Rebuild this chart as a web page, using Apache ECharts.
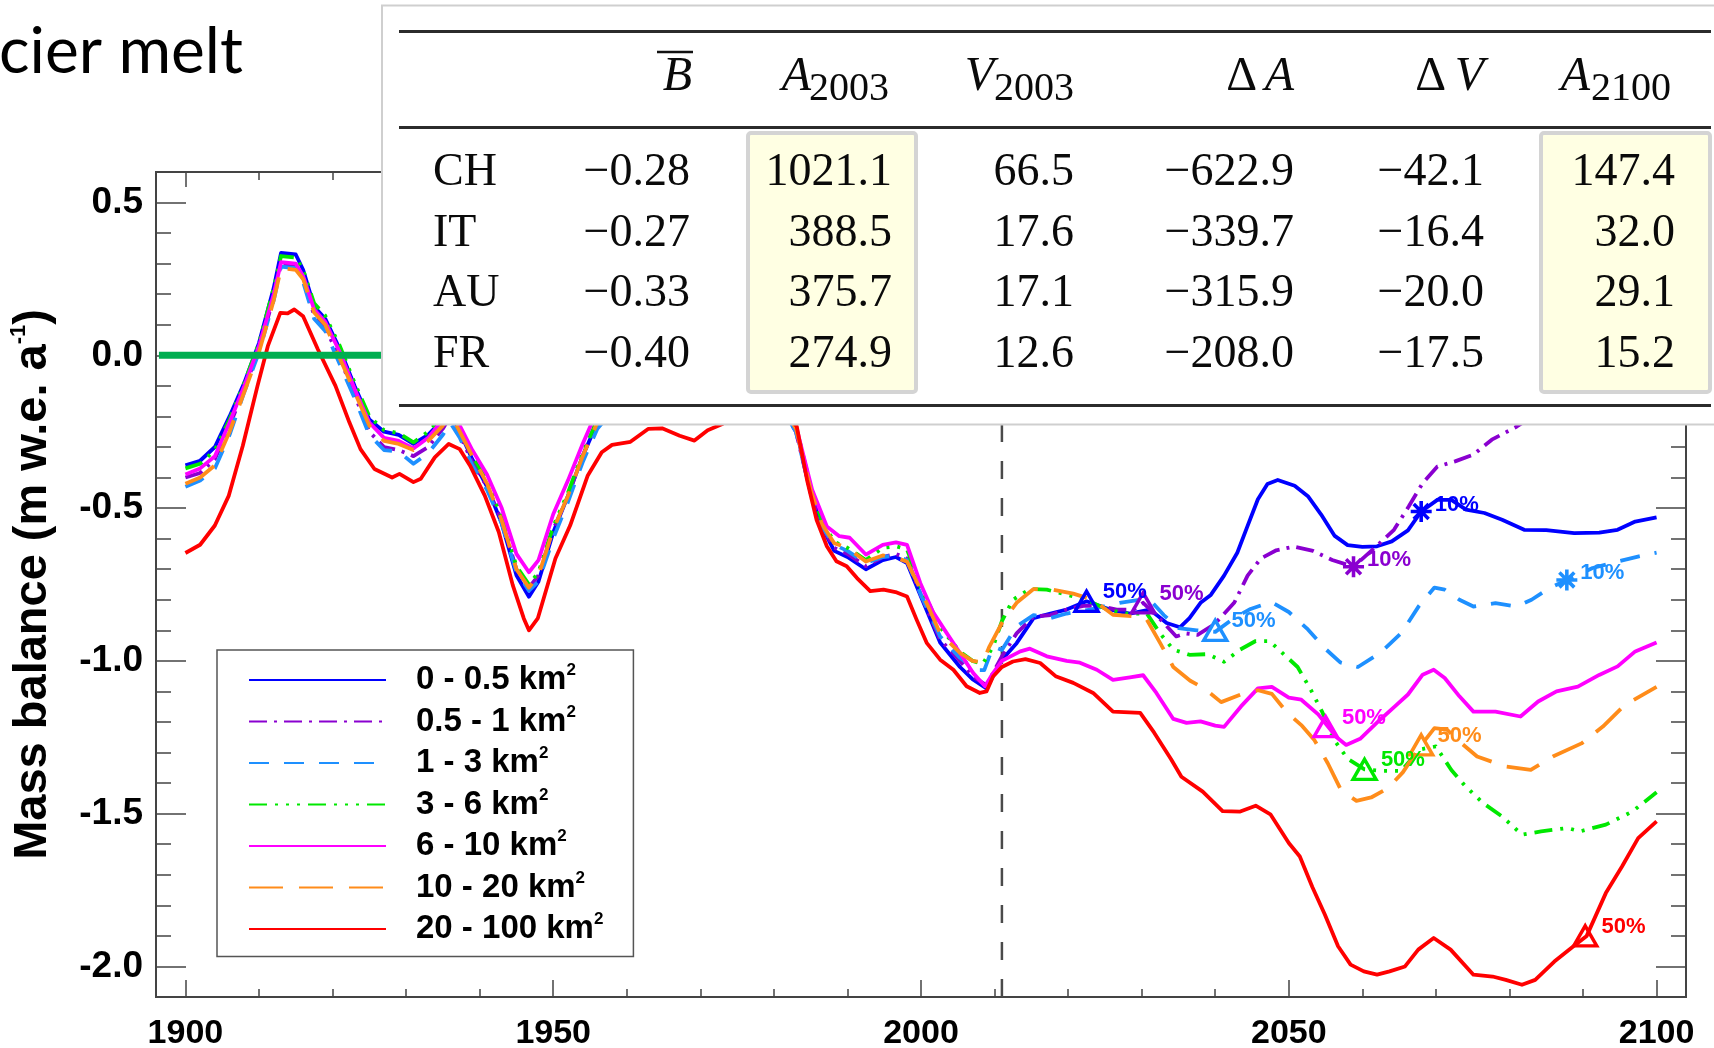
<!DOCTYPE html>
<html><head><meta charset="utf-8">
<script src="https://cdn.jsdelivr.net/npm/echarts@6/dist/echarts.min.js"></script>
<style>html,body{margin:0;padding:0;background:#fff}#c{width:1714px;height:1048px}</style>
</head><body><div id="c"></div>
<script>
// ---------------- data ----------------
const sizeClasses = ['0 - 0.5','0.5 - 1','1 - 3','3 - 6','6 - 10','10 - 20','20 - 100'];

const mb_0_05 = [[1900,-0.36],[1902,-0.345],[1904,-0.30],[1906,-0.20],[1908,-0.09],[1910,0.04],[1912,0.22],[1913,0.335],[1915,0.33],[1916,0.28],[1917.5,0.16],[1919,0.12],[1921,0.02],[1923,-0.10],[1925,-0.21],[1927,-0.25],[1929,-0.26],[1931,-0.29],[1933,-0.26],[1935,-0.21],[1936,-0.19],[1937.3,-0.25],[1939,-0.34],[1941,-0.43],[1943,-0.55],[1945,-0.72],[1946.7,-0.79],[1948,-0.74],[1950,-0.58],[1952,-0.46],[1954,-0.33],[1956,-0.22],[1960,-0.12],[1965,-0.06],[1970,-0.09],[1975,-0.05],[1980,-0.12],[1983,-0.24],[1985,-0.45],[1986.5,-0.56],[1988.2,-0.64],[1990,-0.66],[1992.5,-0.70],[1994.8,-0.67],[1996.6,-0.66],[1998.1,-0.68],[2000,-0.79],[2002.6,-0.94],[2005.3,-1.02],[2007,-1.06],[2008.9,-1.09],[2010,-1.04],[2011,-0.996],[2013,-0.942],[2015.3,-0.86],[2017.6,-0.845],[2019.8,-0.832],[2022.5,-0.805],[2025.7,-0.832],[2028.4,-0.845],[2031.1,-0.832],[2033.4,-0.876],[2035.2,-0.89],[2036.5,-0.86],[2038,-0.81],[2039.4,-0.784],[2041.2,-0.721],[2043,-0.646],[2044.4,-0.558],[2045.8,-0.471],[2047.1,-0.421],[2048.5,-0.408],[2050.8,-0.427],[2052.6,-0.461],[2054.4,-0.521],[2056.2,-0.59],[2058,-0.621],[2060,-0.627],[2062,-0.625],[2064,-0.609],[2066.2,-0.573],[2068,-0.511],[2070.2,-0.473],[2072.1,-0.473],[2074.1,-0.505],[2076.6,-0.516],[2079,-0.538],[2082,-0.571],[2085,-0.572],[2088.8,-0.582],[2092.2,-0.58],[2094.7,-0.571],[2097.1,-0.544],[2100,-0.53]];

const mb_05_1 = [[1900,-0.40],[1902,-0.385],[1904,-0.34],[1906,-0.23],[1908,-0.11],[1910,0.02],[1912,0.19],[1913,0.30],[1915,0.295],[1916,0.25],[1917.5,0.13],[1919,0.09],[1921,-0.01],[1923,-0.13],[1925,-0.25],[1927,-0.30],[1929,-0.31],[1931,-0.33],[1933,-0.30],[1935,-0.24],[1936,-0.20],[1937.3,-0.26],[1939,-0.35],[1941,-0.43],[1943,-0.54],[1945,-0.70],[1946.7,-0.76],[1948,-0.72],[1950,-0.57],[1952,-0.46],[1954,-0.33],[1956,-0.21],[1960,-0.12],[1965,-0.06],[1970,-0.09],[1975,-0.06],[1980,-0.13],[1983,-0.25],[1985,-0.45],[1986.5,-0.56],[1988.2,-0.63],[1990,-0.65],[1992.5,-0.69],[1994.8,-0.66],[1996.6,-0.65],[1998.1,-0.665],[2000,-0.785],[2002.6,-0.93],[2005.3,-1.0],[2007,-1.05],[2008.9,-1.08],[2010,-1.03],[2011,-0.985],[2013,-0.91],[2015.3,-0.855],[2017.6,-0.85],[2019.8,-0.832],[2022.1,-0.82],[2024.3,-0.82],[2026.6,-0.832],[2028.9,-0.832],[2030.2,-0.81],[2032.5,-0.863],[2034.7,-0.92],[2036,-0.91],[2037.6,-0.915],[2039.9,-0.88],[2042.6,-0.809],[2044.4,-0.721],[2046.2,-0.665],[2048.3,-0.638],[2050.7,-0.626],[2053.3,-0.64],[2055.9,-0.67],[2058.8,-0.692],[2061.4,-0.636],[2064.3,-0.571],[2066.3,-0.495],[2068.2,-0.418],[2070.2,-0.364],[2072.6,-0.347],[2075.1,-0.325],[2077.6,-0.276],[2081,-0.233],[2085,-0.17],[2090,-0.11],[2095,-0.06],[2100,-0.02]];

const mb_1_3 = [[1900,-0.43],[1902,-0.41],[1904,-0.37],[1906,-0.26],[1908,-0.12],[1910,0.01],[1912,0.18],[1913,0.29],[1915,0.285],[1916,0.24],[1917.5,0.12],[1919,0.08],[1921,-0.03],[1923,-0.14],[1925,-0.26],[1927,-0.31],[1929,-0.315],[1931,-0.355],[1933,-0.32],[1935,-0.26],[1936,-0.22],[1937.3,-0.27],[1939,-0.36],[1941,-0.44],[1943,-0.55],[1945,-0.71],[1946.7,-0.77],[1948,-0.74],[1950,-0.60],[1952,-0.48],[1954,-0.35],[1956,-0.24],[1960,-0.13],[1965,-0.07],[1970,-0.10],[1975,-0.06],[1980,-0.13],[1983,-0.25],[1985,-0.45],[1986.5,-0.56],[1988.2,-0.62],[1990,-0.64],[1992.5,-0.68],[1994.8,-0.66],[1996.6,-0.655],[1998.1,-0.67],[2000,-0.785],[2002.6,-0.92],[2005.3,-0.99],[2007.6,-1.03],[2008.6,-1.03],[2009.8,-0.953],[2011,-0.964],[2013,-0.887],[2015.3,-0.85],[2017.6,-0.86],[2019.8,-0.845],[2023,-0.832],[2027,-0.81],[2029.8,-0.80],[2031.5,-0.81],[2033,-0.85],[2035,-0.893],[2037.5,-0.90],[2040,-0.905],[2042.6,-0.859],[2044.8,-0.83],[2047.6,-0.807],[2050,-0.84],[2052.6,-0.897],[2054.9,-0.959],[2057,-1.005],[2059.4,-1.02],[2062.5,-0.973],[2065.3,-0.909],[2067.7,-0.82],[2069.8,-0.76],[2071.2,-0.767],[2073.2,-0.8],[2075.1,-0.822],[2078.1,-0.811],[2081,-0.822],[2083,-0.8],[2085.4,-0.762],[2087.8,-0.735],[2091.3,-0.696],[2094.7,-0.675],[2097.6,-0.658],[2100,-0.646]];

const mb_3_6 = [[1900,-0.37],[1902,-0.355],[1904,-0.31],[1906,-0.21],[1908,-0.09],[1910,0.04],[1912,0.22],[1913,0.325],[1915,0.32],[1916,0.28],[1917.5,0.17],[1919,0.13],[1921,0.03],[1923,-0.09],[1925,-0.20],[1927,-0.245],[1929,-0.255],[1931,-0.285],[1933,-0.25],[1935,-0.20],[1936,-0.18],[1937.3,-0.24],[1939,-0.33],[1941,-0.41],[1943,-0.53],[1945,-0.69],[1946.7,-0.75],[1948,-0.71],[1950,-0.56],[1952,-0.45],[1954,-0.32],[1956,-0.21],[1960,-0.11],[1965,-0.05],[1970,-0.08],[1975,-0.04],[1980,-0.11],[1983,-0.23],[1985,-0.43],[1986.5,-0.54],[1988.2,-0.61],[1990,-0.63],[1992.5,-0.67],[1994.8,-0.63],[1996.6,-0.625],[1998.1,-0.635],[2000,-0.76],[2002.6,-0.89],[2005.3,-0.97],[2007,-1.0],[2008.4,-1.01],[2009.8,-0.953],[2011,-0.87],[2012.5,-0.80],[2014.8,-0.765],[2017.1,-0.767],[2019.8,-0.783],[2022.5,-0.80],[2025.3,-0.832],[2028,-0.845],[2030.7,-0.845],[2032.5,-0.91],[2034.3,-0.963],[2036.5,-0.98],[2039,-0.978],[2041.2,-1.003],[2043.4,-0.963],[2045.5,-0.935],[2047.4,-0.935],[2049.4,-0.98],[2051.2,-1.02],[2053,-1.095],[2054.5,-1.165],[2056.2,-1.26],[2058,-1.32],[2060.3,-1.355],[2062.8,-1.36],[2065.3,-1.36],[2067.8,-1.29],[2070,-1.28],[2072.1,-1.357],[2074,-1.41],[2076.4,-1.465],[2079,-1.509],[2081.7,-1.569],[2084.3,-1.558],[2087.9,-1.547],[2089.6,-1.558],[2093.1,-1.536],[2096.7,-1.493],[2100,-1.43]];

const mb_6_10 = [[1900,-0.39],[1902,-0.37],[1904,-0.33],[1906,-0.22],[1908,-0.10],[1910,0.03],[1912,0.20],[1913,0.305],[1915,0.30],[1916,0.26],[1917.5,0.15],[1919,0.11],[1921,0.01],[1923,-0.11],[1925,-0.22],[1927,-0.27],[1929,-0.28],[1931,-0.305],[1933,-0.27],[1935,-0.21],[1936,-0.17],[1937.3,-0.23],[1939,-0.31],[1941,-0.39],[1943,-0.50],[1945,-0.65],[1946.7,-0.71],[1948,-0.67],[1950,-0.52],[1952,-0.41],[1954,-0.29],[1956,-0.18],[1960,-0.09],[1965,-0.03],[1970,-0.06],[1975,-0.02],[1980,-0.10],[1983,-0.23],[1985.2,-0.44],[1987.2,-0.56],[1988.9,-0.592],[1990.3,-0.597],[1992.5,-0.652],[1994.8,-0.62],[1996.6,-0.612],[1998.1,-0.62],[1999.9,-0.745],[2001.7,-0.843],[2003.5,-0.909],[2005.3,-0.974],[2007.1,-1.04],[2008.7,-1.083],[2009.8,-1.04],[2011,-1.0],[2013.5,-0.969],[2014.8,-0.96],[2017.1,-0.985],[2019.8,-1.0],[2021.6,-1.006],[2023.9,-1.029],[2026.1,-1.062],[2028.4,-1.054],[2030.2,-1.047],[2032,-1.105],[2034.3,-1.19],[2036.1,-1.203],[2038,-1.198],[2040,-1.212],[2041.2,-1.216],[2043.5,-1.149],[2045.8,-1.09],[2047.7,-1.085],[2050,-1.12],[2051.7,-1.127],[2054,-1.175],[2055,-1.205],[2056.5,-1.25],[2057.8,-1.275],[2059.7,-1.255],[2062.3,-1.195],[2064.5,-1.147],[2066.2,-1.11],[2068.2,-1.045],[2069.7,-1.029],[2071.2,-1.056],[2073.2,-1.116],[2075.1,-1.166],[2078.1,-1.166],[2081.5,-1.182],[2083.9,-1.133],[2086.4,-1.1],[2089.3,-1.084],[2092.2,-1.046],[2094.7,-1.018],[2097.1,-0.969],[2100,-0.94]];

const mb_10_20 = [[1900,-0.42],[1902,-0.40],[1904,-0.36],[1906,-0.25],[1908,-0.12],[1910,0.01],[1912,0.18],[1913,0.285],[1915,0.28],[1916,0.25],[1917.5,0.14],[1919,0.10],[1921,-0.01],[1923,-0.12],[1925,-0.23],[1927,-0.28],[1929,-0.29],[1931,-0.31],[1933,-0.28],[1935,-0.23],[1936,-0.19],[1937.3,-0.25],[1939,-0.33],[1941,-0.42],[1943,-0.54],[1945,-0.70],[1946.7,-0.76],[1948,-0.72],[1950,-0.57],[1952,-0.46],[1954,-0.33],[1956,-0.22],[1960,-0.11],[1965,-0.05],[1970,-0.08],[1975,-0.05],[1980,-0.12],[1983,-0.24],[1985,-0.44],[1986.5,-0.55],[1988.2,-0.615],[1990,-0.63],[1992.5,-0.675],[1994.8,-0.655],[1996.6,-0.663],[1998.1,-0.675],[2000,-0.77],[2002.6,-0.91],[2005.3,-0.974],[2007,-1.0],[2008.4,-1.005],[2009.3,-0.953],[2011,-0.876],[2013,-0.81],[2015.3,-0.765],[2018,-0.767],[2020.7,-0.78],[2023.4,-0.80],[2026.1,-0.849],[2028.9,-0.854],[2030.7,-0.865],[2032.5,-0.941],[2034.3,-1.02],[2036.6,-1.065],[2038.5,-1.09],[2040.8,-1.135],[2043.5,-1.11],[2045.8,-1.096],[2047.7,-1.108],[2049.8,-1.17],[2051.7,-1.21],[2053.5,-1.26],[2055.3,-1.335],[2057.1,-1.423],[2059.2,-1.458],[2061.2,-1.447],[2063.5,-1.416],[2065.5,-1.365],[2067.3,-1.30],[2068.5,-1.26],[2069.8,-1.22],[2071.5,-1.225],[2073.5,-1.27],[2075.6,-1.313],[2079.5,-1.346],[2082.9,-1.357],[2085.9,-1.313],[2089.8,-1.27],[2092.7,-1.215],[2095.7,-1.144],[2100,-1.085]];

const mb_20_100 = [[1900,-0.647],[1902,-0.62],[1904,-0.557],[1905.9,-0.459],[1907.8,-0.296],[1909.8,-0.10],[1911.2,0.03],[1912.9,0.139],[1913.9,0.137],[1914.8,0.15],[1916,0.128],[1918,0.02],[1920.4,-0.10],[1922.3,-0.22],[1923.8,-0.307],[1925.7,-0.372],[1928.1,-0.40],[1929.1,-0.388],[1931,-0.415],[1932,-0.404],[1933.9,-0.334],[1935.8,-0.29],[1937.3,-0.307],[1938.7,-0.361],[1940.7,-0.459],[1942.6,-0.578],[1944.5,-0.752],[1946,-0.861],[1946.7,-0.90],[1947.9,-0.861],[1950.3,-0.665],[1952.3,-0.557],[1954.7,-0.393],[1956.6,-0.317],[1958,-0.293],[1960.5,-0.283],[1962.9,-0.241],[1964.8,-0.239],[1967.2,-0.263],[1969.2,-0.279],[1971,-0.245],[1973,-0.225],[1976,-0.17],[1980,-0.15],[1983.1,-0.232],[1984.5,-0.407],[1985.8,-0.538],[1987.2,-0.625],[1988.5,-0.674],[1989.9,-0.69],[1991.3,-0.729],[1993.1,-0.772],[1994.9,-0.767],[1996.7,-0.776],[1998.1,-0.789],[1999.4,-0.865],[2000.8,-0.942],[2002.6,-0.996],[2004.4,-1.029],[2006.2,-1.083],[2008,-1.105],[2008.9,-1.10],[2009.8,-1.051],[2011,-1.02],[2012.5,-1.002],[2014.2,-0.994],[2016.2,-1.007],[2018.3,-1.05],[2020.7,-1.072],[2023.4,-1.105],[2026.1,-1.166],[2029.8,-1.17],[2031.7,-1.235],[2034,-1.322],[2035.4,-1.379],[2038.3,-1.428],[2041,-1.492],[2043.4,-1.493],[2045.5,-1.474],[2047.5,-1.502],[2050,-1.596],[2051.5,-1.64],[2053.2,-1.74],[2054.9,-1.83],[2056.7,-1.934],[2058.4,-1.994],[2060.2,-2.016],[2062,-2.027],[2063.7,-2.016],[2065.8,-2.0],[2067.6,-1.945],[2069.7,-1.907],[2072,-1.945],[2075.1,-2.027],[2077.7,-2.033],[2079.5,-2.044],[2081.7,-2.06],[2083.5,-2.044],[2086.1,-1.984],[2088.7,-1.934],[2090.5,-1.90],[2093.1,-1.76],[2095.3,-1.673],[2097.5,-1.58],[2100,-1.525]];

// 50 % and 10 % area-loss markers, per size class (same order as sizeClasses)
const mark50 = [[2022.5,-0.805],[2030.2,-0.81],[2040,-0.90],[2060.3,-1.355],[2055,-1.215],[2068,-1.275],[2090.3,-1.90]];
const mark10 = [[2068,-0.511],[2058.8,-0.692],[2087.8,-0.735],null,null,null,null];
const markText50 = '50%', markText10 = '10%';

const zeroLine = [[1896.4,0],[2104,0]];
const refYear = [[2011,-2.1],[2011,0.6]];

const xMajor = [1900,1950,2000,2050,2100];
const xMinor = [1910,1920,1930,1940,1960,1970,1980,1990,2010,2020,2030,2040,2060,2070,2080,2090];
const yMajor = [-2.0,-1.5,-1.0,-0.5,0.0,0.5];
const yMinor = [-1.9,-1.8,-1.7,-1.6,-1.4,-1.3,-1.2,-1.1,-0.9,-0.8,-0.7,-0.6,-0.4,-0.3,-0.2,-0.1,0.1,0.2,0.3,0.4];

// table
const tblRegions = ['CH','IT','AU','FR'];
const tblB = [-0.28,-0.27,-0.33,-0.40];
const tblA2003 = [1021.1,388.5,375.7,274.9];
const tblV2003 = [66.5,17.6,17.1,12.6];
const tblDA = [-622.9,-339.7,-315.9,-208.0];
const tblDV = [-42.1,-16.4,-20.0,-17.5];
const tblA2100 = [147.4,32.0,29.1,15.2];

const titleText = 'cier melt';
const yName = ['Mass balance (m w.e. a', '-1', ')'];

// ---------------- styles ----------------
const seriesData = [mb_0_05, mb_05_1, mb_1_3, mb_3_6, mb_6_10, mb_10_20, mb_20_100];
const colors = ['#0000FF','#8A00D0','#1E90FF','#00E800','#FF00FF','#FF8C1A','#FF0000'];
const dashes = ['solid',[18,7,3,7],[20,15],[18,8,3,8,3,8,3,8],'solid',[34,16],'solid'];
const starPath = 'path://M0 8.3L20 8.3L20 11.7L0 11.7Z M11.7 0L11.7 20L8.3 20L8.3 0Z M4.1 1.7L18.3 15.9L15.9 18.3L1.7 4.1Z M18.3 4.1L4.1 18.3L1.7 15.9L15.9 1.7Z';
const SANS = '"Liberation Sans", Arial, sans-serif';
const SERIF = '"Liberation Serif", "Times New Roman", serif';

function fmt(v, d){ return (v < 0 ? '\u2212' : '') + Math.abs(v).toFixed(d); }

const series = seriesData.map((d, i) => {
  const c = colors[i];
  const mp = [];
  if (mark50[i]) mp.push({coord: mark50[i], symbol: 'triangle', symbolSize: [23, 20],
    itemStyle: {color: 'rgba(255,255,255,0)', borderColor: c, borderWidth: 3.4},
    label: {show: true, position: 'right', distance: 3, offset: [0, -9], formatter: markText50,
      color: c, fontSize: 22, fontWeight: 'bold', fontFamily: SANS}});
  if (mark10[i]) mp.push({coord: mark10[i], symbol: starPath, symbolSize: 21,
    itemStyle: {color: c, borderWidth: 0},
    label: {show: true, position: 'right', distance: 3, offset: [0, -7], formatter: markText10,
      color: c, fontSize: 22, fontWeight: 'bold', fontFamily: SANS}});
  return {
    name: sizeClasses[i] + ' km\u00b2', type: 'line', data: d, symbol: 'none', showSymbol: false,
    smooth: false, z: 2, silent: true,
    lineStyle: {color: c, width: 3.8, type: dashes[i], cap: 'butt', join: 'round'},
    itemStyle: {color: c},
    markPoint: {silent: true, animation: false, data: mp}
  };
});
series.push({name: 'ref', type: 'line', data: refYear, symbol: 'none', silent: true, z: 1,
  lineStyle: {color: '#4a4a4a', width: 2.5, type: [18, 19]}});
series.push({name: 'zero', type: 'line', data: zeroLine, symbol: 'none', silent: true, z: 3,
  lineStyle: {color: '#00AE50', width: 7}});

function xAx(pos, ticks, len, showLabel) {
  return {type: 'value', position: pos, min: 1896, max: 2104, gridIndex: 0,
    axisLine: {show: true, onZero: false, lineStyle: {color: '#444', width: 2}},
    axisTick: {show: true, inside: true, length: len, customValues: ticks, lineStyle: {color: '#444', width: 1.5}},
    axisLabel: {show: showLabel, customValues: ticks, margin: 20, color: '#000', fontSize: 34,
      fontWeight: 'bold', fontFamily: SANS, formatter: v => String(v)},
    splitLine: {show: false}};
}
function yAx(pos, ticks, len, showLabel, extra) {
  return Object.assign({type: 'value', position: pos, min: -2.1, max: 0.6, gridIndex: 0,
    axisLine: {show: true, onZero: false, lineStyle: {color: '#444', width: 2}},
    axisTick: {show: true, inside: true, length: len, customValues: ticks, lineStyle: {color: '#444', width: 1.5}},
    axisLabel: {show: showLabel, customValues: ticks, margin: 13, color: '#000', fontSize: 37,
      fontWeight: 'bold', fontFamily: SANS, formatter: v => v.toFixed(1)},
    splitLine: {show: false}}, extra || {});
}

// table graphics (drawn above the plot)
const G = [];
const ZT = 100;
G.push({type: 'rect', z: ZT, shape: {x: 382, y: 5.5, width: 1345, height: 419}, style: {fill: '#fff', stroke: '#cfcfcf', lineWidth: 2}});
G.push({type: 'rect', z: ZT + 1, shape: {x: 748, y: 133, width: 168, height: 259, r: 3}, style: {fill: '#FFFFE3', stroke: '#d4d4d4', lineWidth: 4}});
G.push({type: 'rect', z: ZT + 1, shape: {x: 1541, y: 133, width: 169, height: 259, r: 3}, style: {fill: '#FFFFE3', stroke: '#d4d4d4', lineWidth: 4}});
[31.5, 127.5, 405.5].forEach(y => G.push({type: 'line', z: ZT + 1, shape: {x1: 399, y1: y, x2: 1711, y2: y}, style: {stroke: '#2b2b2b', lineWidth: 3}}));
function T(x, y, text, size, align, italic) {
  G.push({type: 'text', z: ZT + 2, x: x, y: y, style: {text: text, fontSize: size, fontFamily: SERIF,
    fontStyle: italic ? 'italic' : 'normal', align: align, verticalAlign: 'middle', fill: '#0a0a0a'}});
}
// header
T(692, 77, 'B', 48, 'right', true);
G.push({type: 'line', z: ZT + 2, shape: {x1: 657, y1: 52, x2: 693, y2: 52}, style: {stroke: '#111', lineWidth: 2.5}});
T(811, 77, 'A', 48, 'right', true); T(809, 89, '2003', 40, 'left', false);
T(994, 77, 'V', 48, 'right', true); T(994, 89, '2003', 40, 'left', false);
T(1257, 77, '\u0394', 48, 'right', false); T(1294, 77, 'A', 48, 'right', true);
T(1446, 77, '\u0394', 48, 'right', false); T(1484, 77, 'V', 48, 'right', true);
T(1590, 77, 'A', 48, 'right', true); T(1591, 89, '2100', 40, 'left', false);
const rowY = [173, 233.5, 294, 354.5];
tblRegions.forEach((r, i) => {
  const y = rowY[i];
  T(433, y, r, 46, 'left', false);
  T(690, y, fmt(tblB[i], 2), 46, 'right', false);
  T(892, y, fmt(tblA2003[i], 1), 46, 'right', false);
  T(1074, y, fmt(tblV2003[i], 1), 46, 'right', false);
  T(1294, y, fmt(tblDA[i], 1), 46, 'right', false);
  T(1484, y, fmt(tblDV[i], 1), 46, 'right', false);
  T(1675, y, fmt(tblA2100[i], 1), 46, 'right', false);
});
// slide title fragment
G.push({type: 'text', z: ZT, x: -1, y: 52, style: {text: titleText, fontSize: 64, fontFamily: 'Lato, "Open Sans", sans-serif',
  align: 'left', verticalAlign: 'middle', fill: '#000'}});

const option = {
  animation: false,
  backgroundColor: '#fff',
  grid: {left: 156, right: 28, top: 172, bottom: 51, containLabel: false, outerBoundsMode: 'none'},
  xAxis: [
    xAx('bottom', xMajor, 17, true),
    xAx('bottom', xMinor, 8, false),
    xAx('top', xMajor, 15, false),
    xAx('top', xMinor, 8, false)
  ],
  yAxis: [
    yAx('left', yMajor, 30, true, {
      name: '{t|' + yName[0] + '}{s|' + yName[1] + '}{t|' + yName[2] + '}',
      nameLocation: 'middle', nameRotate: 90, nameGap: 98, nameMoveOverlap: false,
      nameTextStyle: {rich: {
        t: {fontSize: 47, fontWeight: 'bold', fontFamily: SANS, color: '#000', lineHeight: 50},
        s: {fontSize: 22, fontWeight: 'bold', fontFamily: SANS, color: '#000', lineHeight: 26, verticalAlign: 'top'}
      }}
    }),
    yAx('left', yMinor, 15, false),
    yAx('right', yMajor, 30, false),
    yAx('right', yMinor, 15, false)
  ],
  legend: {
    show: true, orient: 'vertical', left: 217, top: 650, z: 10,
    data: sizeClasses.map(s => s + ' km\u00b2'),
    itemWidth: 137, itemHeight: 14, itemGap: 7,
    padding: [12, 30, 11, 31],
    borderColor: '#555', borderWidth: 1.5, backgroundColor: '#fff',
    selectedMode: false,
    itemStyle: {opacity: 0},
    formatter: name => '{p| }{t|' + name.replace(' km\u00b2', ' km') + '}{s|2}',
    textStyle: {rich: {
      p: {width: 25, fontSize: 10},
      t: {fontSize: 33, fontWeight: 'bold', fontFamily: SANS, color: '#000', lineHeight: 36},
      s: {fontSize: 17, fontWeight: 'bold', fontFamily: SANS, color: '#000', lineHeight: 20, verticalAlign: 'top'}
    }}
  },
  graphic: G,
  series: series
};
const chart = echarts.init(document.getElementById('c'));
chart.setOption(option);
</script></body></html>
